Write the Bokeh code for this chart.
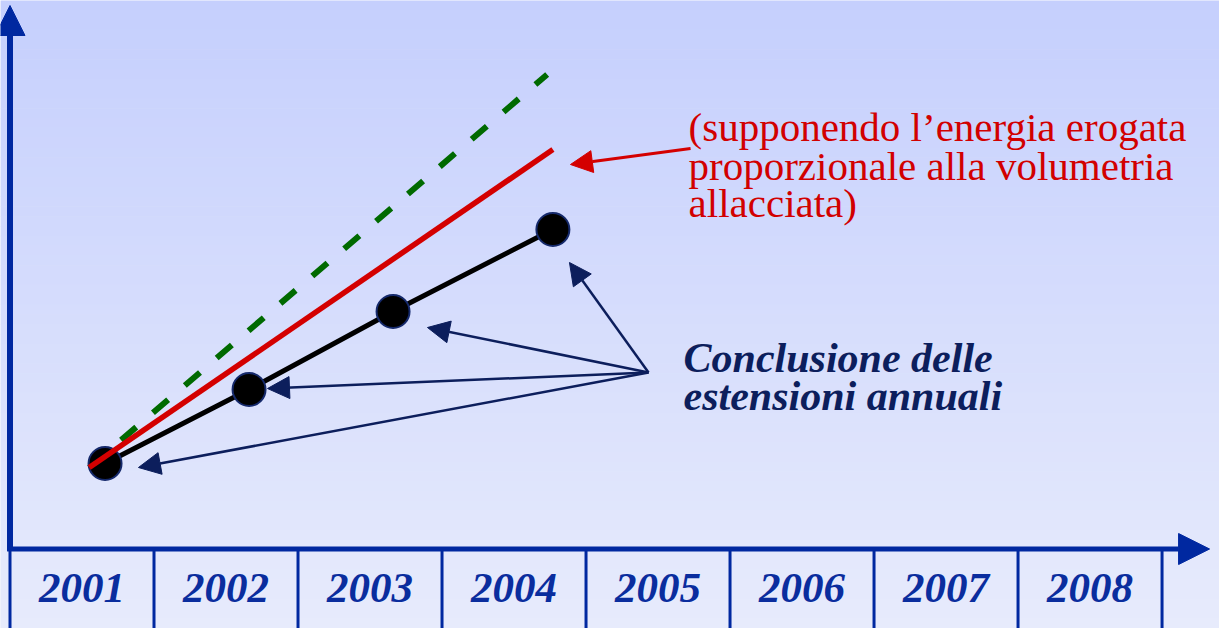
from bokeh.plotting import figure
from bokeh.models import Arrow, NormalHead, Range1d
from bokeh.core.properties import value
from bokeh.embed import file_html
from bokeh.resources import INLINE

# ---------------- data ----------------
year_labels = ["2001", "2002", "2003", "2004", "2005", "2006", "2007", "2008"]
year_centers = [2001, 2002, 2003, 2004, 2005, 2006, 2007, 2008]
cell_edges = [2000.5, 2001.5, 2002.5, 2003.5, 2004.5, 2005.5, 2006.5, 2007.5, 2008.5]

# annual extension conclusions (volumetry connected)
ext_x = [2001.16, 2002.16, 2003.16, 2004.27]
ext_v = [17.0, 31.8, 47.4, 63.8]

# energy proportional to volumetry (red) and dashed projection (green)
red_x = [2001.05, 2004.27]
red_v = [16.2, 79.8]
green_x = [2001.05, 2004.23]
green_v = [16.2, 94.8]

red_text = ["(supponendo l\u2019energia erogata", "proporzionale alla volumetria", "allacciata)"]
navy_text = ["Conclusione delle", "estensioni annuali"]

# annotation anchors
navy_src = (2004.934, 35.2)
navy_tips = [(2004.385, 57.2), (2003.399, 44.2), (2002.288, 32.0), (2001.392, 16.2)]
red_arrow = ((2005.226, 80.0), (2004.392, 76.8))

# ---------------- figure ----------------
X0, X1 = 2000.434, 2008.899
Y0, Y1 = -16.0, 109.6
W, H = 1219, 628
TXT_SHIFT = 3.0  # compensate baseline placement of svg text

p = figure(width=W, height=H, output_backend="svg", toolbar_location=None,
           x_range=Range1d(X0, X1), y_range=Range1d(Y0, Y1),
           min_border=0, outline_line_color=None)
p.axis.visible = False
p.grid.visible = False
p.background_fill_color = "#e6eafc"
p.border_fill_color = "#e6eafc"

# background vertical gradient
top = (197, 207, 253)
bot = (231, 235, 252)
n = 64
step = (Y1 - Y0) / n
for i in range(n):
    t = (i + 0.5) / n
    c = tuple(int(round(top[k] + (bot[k] - top[k]) * t)) for k in range(3))
    col = "#%02x%02x%02x" % c
    yt = Y1 - i * step
    p.quad(left=X0, right=X1, top=yt + 0.05, bottom=yt - step - 0.05,
           fill_color=col, line_color=None)

axis_blue = "#0028a0"

# table separators below the axis
for e in cell_edges:
    p.segment(x0=e, y0=0, x1=e, y1=Y0, line_color=axis_blue, line_width=3)

# axes with arrows
p.add_layout(Arrow(x_start=2000.5, y_start=-0.5, x_end=2000.5, y_end=108.6,
                   line_color=axis_blue, line_width=6,
                   end=NormalHead(size=30, fill_color=axis_blue, line_color=axis_blue, line_width=1)))
p.add_layout(Arrow(x_start=2000.48, y_start=-0.1, x_end=2008.83, y_end=-0.1,
                   line_color=axis_blue, line_width=5,
                   end=NormalHead(size=31, fill_color=axis_blue, line_color=axis_blue, line_width=1)))

# year labels
p.text(x=year_centers, y=[-10.8 + TXT_SHIFT] * len(year_centers), text=year_labels,
       text_font=value("Liberation Serif"), text_font_style="bold italic",
       text_font_size="43px", text_color="#0a2d9e",
       text_align="center", text_baseline="alphabetic")

# series
p.line(green_x, green_v, line_color="#006a00", line_width=6, line_dash="20 22")
p.line(ext_x, ext_v, line_color="black", line_width=5)
p.scatter(ext_x, ext_v, marker="circle", size=33, fill_color="black",
          line_color="#15296b", line_width=2)
p.line(red_x, red_v, line_color="#d40000", line_width=5.5)

# red annotation
p.add_layout(Arrow(x_start=red_arrow[0][0], y_start=red_arrow[0][1],
                   x_end=red_arrow[1][0], y_end=red_arrow[1][1],
                   line_color="#d40000", line_width=3,
                   end=NormalHead(size=22, fill_color="#d40000", line_color="#d40000", line_width=1)))
red_base = [81.4, 73.6, 66.2]
p.text(x=[2005.212] * 3, y=[b + TXT_SHIFT for b in red_base], text=red_text,
       text_font=value("Liberation Serif"), text_font_size="41px",
       text_color="#d20000", text_align="left", text_baseline="alphabetic")

# navy annotation
navy = "#0c1e5c"
for tx, ty in navy_tips:
    p.add_layout(Arrow(x_start=navy_src[0], y_start=navy_src[1], x_end=tx, y_end=ty,
                       line_color=navy, line_width=2.5,
                       end=NormalHead(size=22, fill_color=navy, line_color=navy, line_width=1)))
navy_base = [35.2, 27.6]
p.text(x=[2005.177] * 2, y=[b + TXT_SHIFT for b in navy_base], text=navy_text,
       text_font=value("Liberation Serif"), text_font_style="bold italic",
       text_font_size="42px", text_color=navy,
       text_align="left", text_baseline="alphabetic")

open("out.html", "w").write(file_html(p, INLINE))
